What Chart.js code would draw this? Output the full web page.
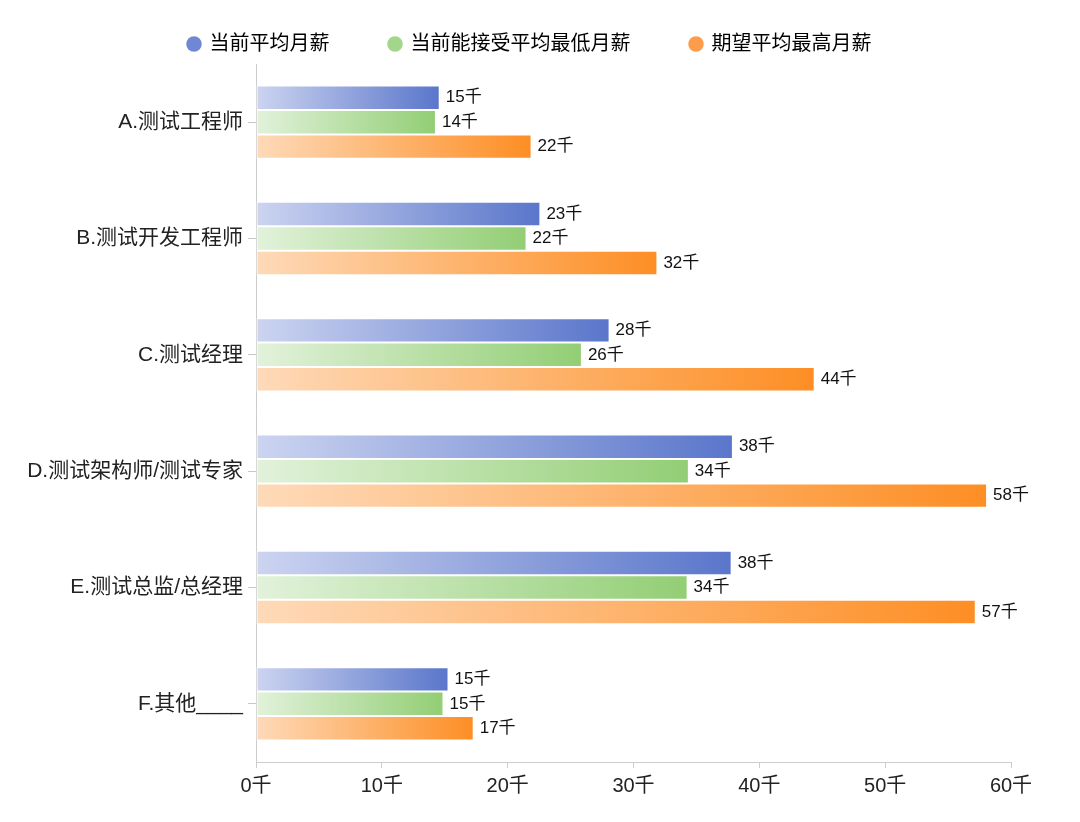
<!DOCTYPE html>
<html lang="zh">
  <head>
    <meta charset="UTF-8" />
    <title>测试岗位薪资</title>
    <script src="https://cdn.jsdelivr.net/npm/chart.js"></script>
    <style>
      body {
        margin: 0;
        background: #fff;
      }
      .wrap {
        width: 1080px;
        height: 822px;
      }
    </style>
  </head>
  <body>
    <div class="wrap">
      <canvas id="salaryChart"></canvas>
    </div>

    <script>
      // data (thousands)
      const categories = [
        "A.测试工程师",
        "B.测试开发工程师",
        "C.测试经理",
        "D.测试架构师/测试专家",
        "E.测试总监/总经理",
        "F.其他____",
      ];
      const currentAvg = [14.6, 22.6, 28.1, 37.9, 37.8, 15.3];
      const acceptMin = [14.3, 21.5, 25.9, 34.4, 34.3, 14.9];
      const expectMax = [21.9, 31.9, 44.4, 58.1, 57.2, 17.3];
      const xTicks = [0, 10, 20, 30, 40, 50, 60];

      const FONT = "'Liberation Sans', 'Noto Sans CJK SC', sans-serif";

      // horizontal gradient across each bar, light at the base
      function grad(c0, c1) {
        return (ctx) => {
          const chart = ctx.chart;
          if (!chart.chartArea || ctx.type !== "data") return c1;
          const xs = chart.scales.x;
          const x0 = xs.getPixelForValue(0);
          const x1 = xs.getPixelForValue(ctx.parsed.x);
          const g = chart.ctx.createLinearGradient(x0, 0, x1, 0);
          g.addColorStop(0, c0);
          g.addColorStop(1, c1);
          return g;
        };
      }

      const legendColors = ["#7087d5", "#a2d68a", "#fd9d4c"];

      // value labels at the end of each bar
      const valueLabels = {
        id: "valueLabels",
        afterLayout(chart) {
          // legend in the picture is centred on the whole width
          if (chart.legend) chart.legend.right = 1060;
        },
        afterDatasetsDraw(chart) {
          const c = chart.ctx;
          c.save();
          c.font = "17px " + FONT;
          c.fillStyle = "#111";
          c.textAlign = "left";
          c.textBaseline = "middle";
          chart.data.datasets.forEach((ds, i) => {
            chart.getDatasetMeta(i).data.forEach((bar, j) => {
              c.fillText(Math.round(ds.data[j]) + "千", bar.x + 6, bar.y);
            });
          });
          c.restore();
        },
      };

      new Chart(document.getElementById("salaryChart"), {
        type: "bar",
        data: {
          labels: categories,
          datasets: [
            {
              label: "当前平均月薪",
              data: currentAvg,
              backgroundColor: grad("#ccd4f0", "#5a76cb"),
            },
            {
              label: "当前能接受平均最低月薪",
              data: acceptMin,
              backgroundColor: grad("#e2f2db", "#92ce74"),
            },
            {
              label: "期望平均最高月薪",
              data: expectMax,
              backgroundColor: grad("#fedab9", "#fd8e24"),
            },
          ],
        },
        options: {
          indexAxis: "y",
          responsive: true,
          maintainAspectRatio: false,
          animation: false,
          layout: {
            padding: { top: -26, right: 69, left: 0, bottom: 0 },
          },
          datasets: {
            bar: {
              barPercentage: 1,
              categoryPercentage: 0.63,
              borderWidth: 1,
              borderColor: "#fff",
              borderSkipped: false,
            },
          },
          scales: {
            x: {
              min: 0,
              max: 60,
              afterBuildTicks: (s) => {
                s.ticks = xTicks.map((v) => ({ value: v }));
              },
              afterFit: (s) => {
                s.height = 60;
              },
              grid: {
                drawOnChartArea: false,
                drawTicks: true,
                tickLength: 6,
                color: "#cccccc",
              },
              border: { display: true, color: "#cccccc" },
              ticks: {
                color: "#222",
                padding: 6,
                font: { size: 20, family: FONT },
                callback: (v) => v + "千",
              },
            },
            y: {
              afterFit: (s) => {
                s.width = 256;
              },
              grid: {
                offset: false,
                drawOnChartArea: false,
                drawTicks: true,
                tickLength: 8,
                color: "#c8c8c8",
              },
              border: { display: true, color: "#cccccc" },
              ticks: {
                color: "#222",
                padding: 5,
                font: { size: 21, family: FONT },
              },
            },
          },
          plugins: {
            tooltip: { enabled: false },
            legend: {
              position: "top",
              labels: {
                usePointStyle: true,
                pointStyle: "circle",
                boxWidth: 11,
                boxHeight: 11,
                padding: 60,
                color: "#222",
                font: { size: 20, family: FONT },
                generateLabels: (chart) =>
                  chart.data.datasets.map((ds, i) => ({
                    text: ds.label,
                    fillStyle: legendColors[i],
                    strokeStyle: legendColors[i],
                    lineWidth: 0,
                    pointStyle: "circle",
                    datasetIndex: i,
                    hidden: false,
                  })),
              },
            },
          },
        },
        plugins: [valueLabels],
      });
    </script>
  </body>
</html>
